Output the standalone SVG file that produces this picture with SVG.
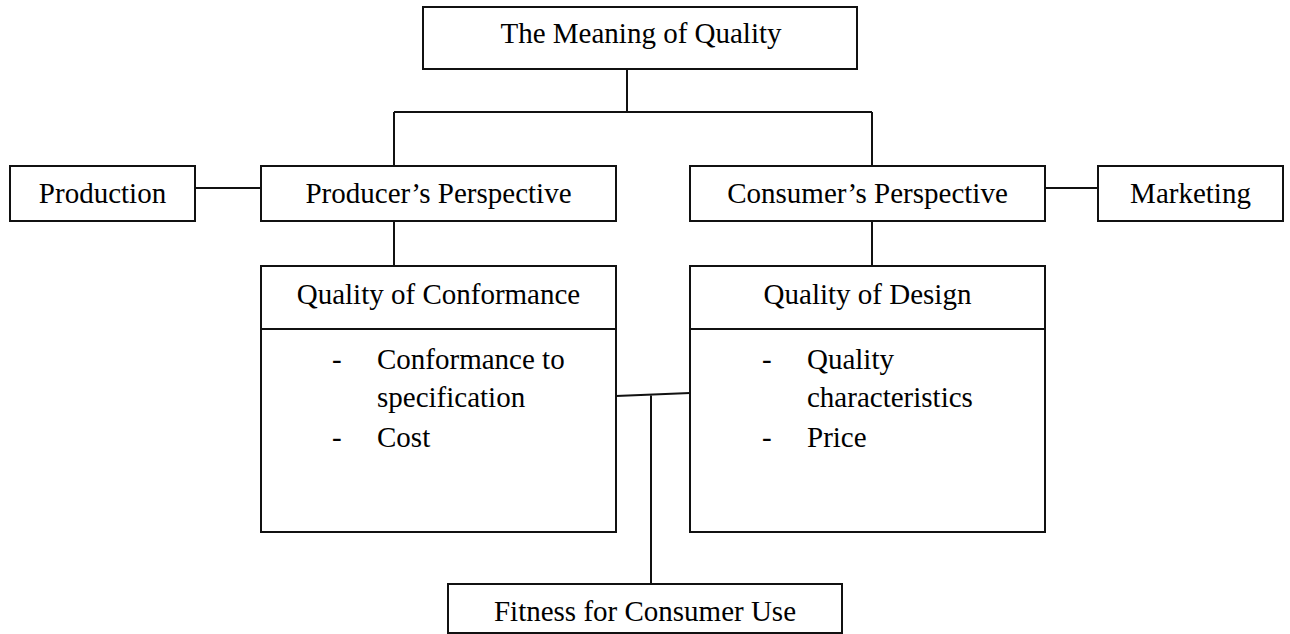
<svg xmlns="http://www.w3.org/2000/svg" width="1290" height="634" viewBox="0 0 1290 634">
<style>
.box{fill:#fff;stroke:#111;stroke-width:2}
.ln{fill:none;stroke:#111;stroke-width:2}
text{font-family:"Liberation Serif","Times New Roman",serif;font-size:29px;fill:#000}
.c{text-anchor:middle}
</style>
<rect width="1290" height="634" fill="#fff"/>
<g id="connectors">
<path class="ln" d="M627 69V112M394 112H872M394 112V166M872 112V166"/>
<path class="ln" d="M195 188H261M1045 188H1098"/>
<path class="ln" d="M394 221V266M872 221V266"/>
<path class="ln" d="M616 396L690 393M651 394.5V584"/>
</g>
<g id="meaning">
<rect class="box" x="423" y="7" width="434" height="62"/>
<text class="c" x="641" y="43">The Meaning of Quality</text>
</g>
<g id="production">
<rect class="box" x="10" y="166" width="185" height="55"/>
<text class="c" x="102.5" y="203">Production</text>
</g>
<g id="producer">
<rect class="box" x="261" y="166" width="355" height="55"/>
<text class="c" x="438.5" y="203">Producer’s Perspective</text>
</g>
<g id="consumer">
<rect class="box" x="690" y="166" width="355" height="55"/>
<text class="c" x="867.5" y="203">Consumer’s Perspective</text>
</g>
<g id="marketing">
<rect class="box" x="1098" y="166" width="185" height="55"/>
<text class="c" x="1190.5" y="203">Marketing</text>
</g>
<g id="conformance">
<rect class="box" x="261" y="266" width="355" height="266"/>
<line class="ln" x1="261" y1="329" x2="616" y2="329"/>
<text class="c" x="438.5" y="304">Quality of Conformance</text>
<text x="332" y="369">-</text>
<text x="377" y="369">Conformance to</text>
<text x="377" y="407">specification</text>
<text x="332" y="447">-</text>
<text x="377" y="447">Cost</text>
</g>
<g id="design">
<rect class="box" x="690" y="266" width="355" height="266"/>
<line class="ln" x1="690" y1="329" x2="1045" y2="329"/>
<text class="c" x="867.5" y="304">Quality of Design</text>
<text x="762" y="369">-</text>
<text x="807" y="369">Quality</text>
<text x="807" y="407">characteristics</text>
<text x="762" y="447">-</text>
<text x="807" y="447">Price</text>
</g>
<g id="fitness">
<rect class="box" x="448" y="584" width="394" height="49"/>
<text class="c" x="645" y="621">Fitness for Consumer Use</text>
</g>
</svg>
